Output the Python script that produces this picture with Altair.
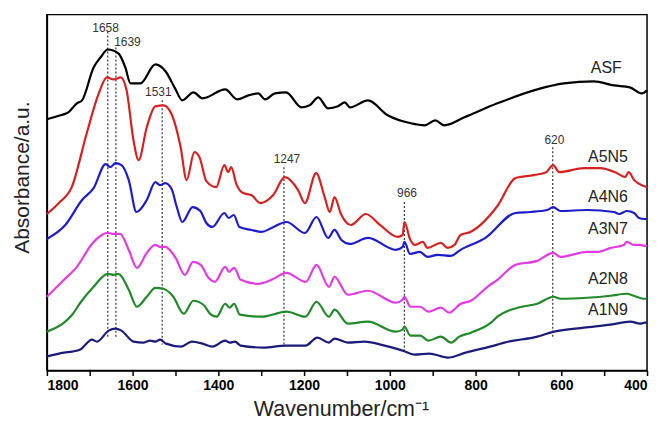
import altair as alt
import pandas as pd

# ---- data (wavenumber in cm-1, stacked absorbance in a.u.) ----
wn_ASF = [1800, 1768, 1750, 1730, 1718, 1691, 1675, 1658, 1633, 1617, 1605, 1582, 1547, 1523, 1501, 1484,
          1458, 1437, 1384, 1356, 1330, 1307, 1291, 1268, 1242, 1206, 1187, 1167, 1144, 1121, 1105, 1093,
          1051, 1005, 951, 919, 894, 873, 826, 749, 656, 594, 524, 477, 440, 412, 400]
ab_ASF = [2.52, 2.56, 2.59, 2.68, 2.71, 3.04, 3.14, 3.22, 3.18, 3.04, 2.88, 2.88, 3.07, 3.00, 2.83, 2.71,
          2.79, 2.73, 2.82, 2.72, 2.76, 2.78, 2.72, 2.78, 2.79, 2.64, 2.66, 2.74, 2.63, 2.65, 2.69, 2.64,
          2.71, 2.56, 2.48, 2.46, 2.51, 2.46, 2.54, 2.68, 2.82, 2.88, 2.90, 2.86, 2.84, 2.78, 2.81]

wn_A5N5 = [1800, 1772, 1742, 1707, 1679, 1660, 1644, 1628, 1614, 1598, 1586, 1567, 1547, 1528, 1509, 1488,
           1474, 1456, 1444, 1428, 1405, 1386, 1377, 1370, 1358, 1342, 1323, 1302, 1272, 1245, 1214, 1198,
           1172, 1152, 1140, 1129, 1114, 1091, 1056, 1023, 981, 970, 966, 953, 942, 923, 912, 881, 865,
           849, 835, 812, 749, 707, 664, 635, 619, 605, 547, 509, 470, 451, 443, 430, 407, 400]
ab_A5N5 = [1.57, 1.68, 1.84, 2.38, 2.78, 2.94, 2.92, 2.94, 2.81, 2.31, 2.11, 2.44, 2.65, 2.66, 2.57, 2.24,
           1.91, 2.19, 2.14, 1.90, 1.84, 2.06, 1.99, 2.04, 1.87, 1.78, 1.76, 1.68, 1.76, 1.94, 1.81, 1.68,
           1.98, 1.74, 1.59, 1.74, 1.57, 1.46, 1.57, 1.46, 1.34, 1.36, 1.49, 1.32, 1.26, 1.29, 1.23, 1.28, 1.23,
           1.26, 1.36, 1.39, 1.65, 1.93, 1.96, 1.99, 2.06, 1.99, 2.03, 2.03, 1.98, 1.94, 1.99, 1.91, 1.85, 1.84]

wn_A4N6 = [1800, 1757, 1718, 1691, 1663, 1652, 1640, 1626, 1609, 1591, 1567, 1547, 1536, 1524, 1509, 1497,
           1484, 1460, 1442, 1428, 1414, 1386, 1376, 1364, 1351, 1323, 1299, 1276, 1241, 1198, 1171, 1144,
           1129, 1113, 1093, 1051, 986, 970, 966, 953, 930, 912, 888, 858, 835, 777, 707, 672, 633, 619,
           602, 540, 477, 465, 447, 430, 419, 405, 400]
ab_A4N6 = [1.32, 1.46, 1.71, 1.83, 2.07, 2.04, 2.08, 2.06, 1.91, 1.59, 1.71, 1.89, 1.86, 1.88, 1.82, 1.64,
           1.49, 1.64, 1.60, 1.48, 1.44, 1.58, 1.53, 1.56, 1.44, 1.41, 1.39, 1.43, 1.49, 1.38, 1.54, 1.33,
           1.41, 1.31, 1.27, 1.33, 1.21, 1.24, 1.29, 1.17, 1.19, 1.14, 1.16, 1.15, 1.21, 1.33, 1.58, 1.59, 1.61, 1.64,
           1.60, 1.61, 1.59, 1.57, 1.60, 1.58, 1.53, 1.52, 1.52]

wn_A3N7 = [1800, 1760, 1730, 1693, 1658, 1644, 1629, 1609, 1590, 1567, 1547, 1536, 1524, 1501, 1478, 1459,
           1441, 1423, 1408, 1384, 1375, 1363, 1348, 1307, 1276, 1241, 1196, 1171, 1142, 1129, 1098, 1051,
           986, 970, 966, 952, 929, 910, 881, 861, 850, 838, 811, 772, 749, 707, 656, 619, 602, 540, 516,
           485, 454, 447, 431, 416, 405, 400]
ab_A3N7 = [0.74, 0.91, 1.04, 1.28, 1.38, 1.37, 1.37, 1.21, 1.03, 1.18, 1.26, 1.24, 1.24, 1.14, 0.96, 1.09,
           1.06, 0.93, 0.89, 1.04, 0.99, 1.03, 0.91, 0.87, 0.91, 0.98, 0.89, 1.06, 0.84, 0.94, 0.76, 0.80,
           0.68, 0.71, 0.74, 0.64, 0.64, 0.59, 0.63, 0.58, 0.61, 0.66, 0.70, 0.84, 0.91, 1.06, 1.10, 1.18, 1.14, 1.19, 1.19,
           1.23, 1.26, 1.29, 1.26, 1.26, 1.25, 1.25]

wn_A2N8 = [1800, 1760, 1741, 1722, 1691, 1658, 1644, 1633, 1609, 1590, 1567, 1547, 1528, 1505, 1481, 1458,
           1435, 1417, 1404, 1384, 1374, 1363, 1350, 1299, 1241, 1197, 1171, 1142, 1129, 1098, 1051, 986,
           970, 966, 952, 929, 910, 881, 857, 838, 811, 764, 749, 702, 656, 618, 602, 540, 485, 447, 431,
           408, 400]
ab_A2N8 = [0.39, 0.48, 0.56, 0.68, 0.84, 0.97, 0.96, 0.97, 0.81, 0.64, 0.74, 0.83, 0.82, 0.74, 0.57, 0.70,
           0.66, 0.56, 0.54, 0.67, 0.63, 0.67, 0.56, 0.54, 0.59, 0.54, 0.69, 0.54, 0.61, 0.47, 0.49, 0.39,
           0.41, 0.44, 0.35, 0.35, 0.30, 0.34, 0.28, 0.34, 0.38, 0.48, 0.54, 0.63, 0.67, 0.74, 0.72, 0.73, 0.75, 0.77, 0.75,
           0.72, 0.72]

wn_A1N9 = [1800, 1760, 1741, 1722, 1695, 1683, 1656, 1640, 1626, 1598, 1574, 1559, 1547, 1536, 1522, 1487,
           1462, 1437, 1414, 1384, 1373, 1361, 1348, 1295, 1243, 1197, 1169, 1142, 1129, 1098, 1059, 1012,
           970, 943, 908, 865, 823, 749, 733, 656, 617, 547, 485, 439, 416, 405, 400]
ab_A1N9 = [0.14, 0.18, 0.19, 0.21, 0.31, 0.29, 0.40, 0.42, 0.40, 0.29, 0.28, 0.30, 0.29, 0.31, 0.27, 0.24,
           0.29, 0.27, 0.24, 0.30, 0.28, 0.29, 0.25, 0.23, 0.25, 0.25, 0.33, 0.28, 0.32, 0.28, 0.29, 0.25,
           0.20, 0.16, 0.17, 0.13, 0.18, 0.26, 0.28, 0.34, 0.39, 0.43, 0.46, 0.49, 0.47, 0.48, 0.48]

series_names = ["ASF", "A5N5", "A4N6", "A3N7", "A2N8", "A1N9"]
series_colors = ["#000000", "#d42222", "#1c1cc8", "#e03ce0", "#22892a", "#1b1b78"]
series_wn = [wn_ASF, wn_A5N5, wn_A4N6, wn_A3N7, wn_A2N8, wn_A1N9]
series_ab = [ab_ASF, ab_A5N5, ab_A4N6, ab_A3N7, ab_A2N8, ab_A1N9]

# curve name labels (position of text)
label_wn = [495, 491, 491, 491, 491, 491]
label_ab = [3.03, 2.14, 1.74, 1.42, 0.92, 0.61]

# marked bands: dotted guide lines and their labels
peak_wn = [1658, 1639, 1531, 1247, 966, 620]
peak_top = [3.40, 3.24, 2.71, 2.04, 1.69, 2.24]
peak_bottom = [0.33, 0.34, 0.26, 0.26, 0.18, 0.33]
peak_text = ["1658", "1639", "1531", "1247", "966", "620"]
peak_text_wn = [1663, 1612, 1540, 1240, 960, 616]
peak_text_ab = [3.44, 3.30, 2.79, 2.12, 1.78, 2.31]

# ---- build tables ----
rows = []
for name, wns, abs_ in zip(series_names, series_wn, series_ab):
    for w, a in zip(wns, abs_):
        rows.append({"wn": w, "ab": a, "series": name})
spectra = pd.DataFrame(rows)
names_df = pd.DataFrame({"wn": label_wn, "ab": label_ab, "series": series_names})
peaks_df = pd.DataFrame({"wn": peak_wn, "top": peak_top, "bottom": peak_bottom})
ptext_df = pd.DataFrame({"wn": peak_text_wn, "ab": peak_text_ab, "text": peak_text})

FONT = "Liberation Sans"
xscale = alt.Scale(domain=[400, 1800], reverse=True, nice=False, zero=False)
yscale = alt.Scale(domain=[0, 3.57], nice=False, zero=False)
cscale = alt.Scale(domain=series_names, range=series_colors)

xaxis = alt.Axis(values=list(range(400, 1801, 100)), format="d",
                 labelExpr="datum.value % 200 == 0 ? datum.label : ''",
                 labelFont=FONT, labelFontSize=14, labelFontWeight="bold", labelColor="black",
                 labelPadding=3, tickSize=5, tickColor="black", tickWidth=1.5,
                 domainColor="black", domainWidth=1.5, grid=False,
                 title="Wavenumber/cm⁻¹", titleFont=FONT, titleFontSize=21.5,
                 titleFontWeight="normal", titleColor="#222222", titlePadding=6, titleX=295)
yaxis = alt.Axis(labels=False, ticks=False, grid=False, domainColor="black", domainWidth=1.5,
                 title="Absorbance/a.u.", titleFont=FONT, titleFontSize=21,
                 titleFontWeight="normal", titleColor="#222222", titlePadding=14, titleY=163)

lines = alt.Chart(spectra).mark_line(strokeWidth=2.2, interpolate="monotone").encode(
    x=alt.X("wn:Q", scale=xscale, axis=xaxis),
    y=alt.Y("ab:Q", scale=yscale, axis=yaxis),
    color=alt.Color("series:N", scale=cscale, legend=None),
    detail="series:N",
)

guides = alt.Chart(peaks_df).mark_rule(color="#333333", strokeWidth=1.2, strokeDash=[2, 2]).encode(
    x=alt.X("wn:Q", scale=xscale),
    y=alt.Y("top:Q", scale=yscale),
    y2="bottom:Q",
)

ptexts = alt.Chart(ptext_df).mark_text(font=FONT, fontSize=12, color="#333333",
                                       align="center", baseline="middle").encode(
    x=alt.X("wn:Q", scale=xscale),
    y=alt.Y("ab:Q", scale=yscale),
    text="text:N",
)

ntexts = alt.Chart(names_df).mark_text(font=FONT, fontSize=16, color="#222222",
                                       align="center", baseline="middle").encode(
    x=alt.X("wn:Q", scale=xscale),
    y=alt.Y("ab:Q", scale=yscale),
    text="series:N",
)

chart = alt.layer(guides, lines, ptexts, ntexts).properties(
    width=602, height=357,
    padding={"left": 4, "top": 6, "right": 5, "bottom": 5},
).configure_view(stroke="black", strokeWidth=1.5)

chart.save("out.html", embed_options={"renderer": "svg", "actions": False})
